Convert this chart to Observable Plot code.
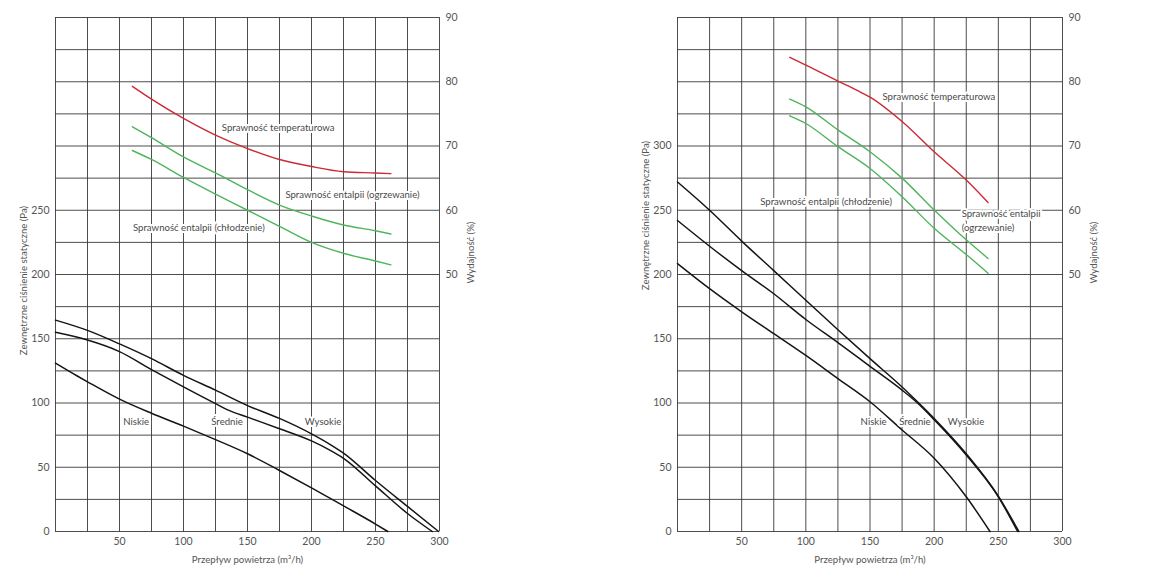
<!DOCTYPE html>
<html><head><meta charset="utf-8">
<script src="https://cdn.jsdelivr.net/npm/d3@7"></script>
<script src="https://cdn.jsdelivr.net/npm/@observablehq/plot@0.6"></script>
<style>
body{margin:0;background:#fff;}
#wrap{position:relative;width:1157px;height:580px;overflow:hidden;background:#fff;}
#wrap svg{position:absolute;top:0;}
</style></head><body><div id="wrap"></div>
<script>
// ---- axis / tick data ----
const gridFlow = [0,25,50,75,100,125,150,175,200,225,250,275,300];
const gridPa = [0,25,50,75,100,125,150,175,200,225,250,275,300,325,350,375,400];
const flowTicks = [50,100,150,200,250,300];
const paTicksLeft = [0,50,100,150,200,250];
const paTicksRight = [0,50,100,150,200,250,300];
const effTicks = [50,60,70,80,90];
const xTitle = "Przepływ powietrza (m³/h)";
const yTitle = "Zewnętrzne ciśnienie statyczne (Pa)";
const effTitle = "Wydajność (%)";
const fanNames = ["Niskie","Średnie","Wysokie"];
const effNames = ["Sprawność temperaturowa","Sprawność entalpii (ogrzewanie)","Sprawność entalpii (chłodzenie)"];

// ---- left chart: pressure (Pa) ----
const lLowFlow  = [0,17,25,50,75,100,125,150,175,200,225,250,259.6];
const lLowPa    = [131,121,116.5,103,92,82,71.5,60.5,47.5,34,20,5.8,0];
const lMidFlow  = [0,25,50,75,100,125,135,150,175,200,215,225,250,275,294.3];
const lMidPa    = [155,149,140,126,112.5,99.5,94.5,89,80,70.5,63,57,35.5,14,0];
const lHighFlow = [0,25,50,75,100,125,150,175,200,215,225,250,275,299.3];
const lHighPa   = [164.5,156.5,146,134.5,121.5,110,98,88,76,67.5,61,39.7,19.5,0];
// ---- left chart: efficiency (%) ----
const lEffFlow = [60,75,100,125,150,175,200,225,250,262];
const lTemp = [79.3,77.3,74.3,71.7,69.6,67.9,66.8,66.0,65.8,65.7];
const lHeat = [73.0,71.3,68.3,65.8,63.2,60.8,59.1,57.7,56.8,56.3];
const lCool = [69.3,67.9,65.1,62.5,60.0,57.5,55.0,53.3,52.1,51.5];

// ---- right chart: pressure (Pa) ----
const rLowFlow  = [0,25,50,75,100,125,150,175,200,225,243.5];
const rLowPa    = [208.5,189,171,154,137,119,101,79,57,27,0];
const rMidFlow  = [0,25,50,75,100,125,150,175,187,200,225,250,265];
const rMidPa    = [242,222,203,185,165,147,128.5,110,100,87,59.5,27,0];
const rHighFlow = [0,25,50,75,100,125,150,175,188,200,225,250,266];
const rHighPa   = [272,250,226,203,180,157,134.5,112.5,100,88,60.5,27.5,0];
// ---- right chart: efficiency (%) ----
const rTempFlow = [87.5,100,125,142.5,150,175,200,225,242];
const rTemp = [83.8,82.6,80.1,78.4,77.6,73.8,69.1,64.7,61.2];
const rEffFlow = [87.5,100,125,150,175,200,225,242];
const rHeat = [77.3,76.1,72.5,69.1,65.0,60.05,55.4,52.5];
const rCool = [74.7,73.5,69.9,66.5,62.1,57.2,53.1,50.2];

// ---- label anchors (flow, Pa) ----
const lLabelText = [effNames[0], effNames[1], effNames[2], fanNames[0], fanNames[1], fanNames[2]];
const lLabelFlow = [174,232,112,63,134,209];
const lLabelPa   = [314,262,236,85,85,85];
const rLabelText = [effNames[0], effNames[2], fanNames[0], fanNames[1], fanNames[2]];
const rLabelFlow = [203.7,115.8,152.8,185,224.8];
const rLabelPa   = [338,256.5,85,85,85];
const rHeatLabel = "Sprawność entalpii\n(ogrzewanie)";
const rHeatLabelFlow = 221.4, rHeatLabelPa = 242.5;

// efficiency % drawn against the Pa scale: 50% ↔ 200 Pa, 10% ↔ 50 Pa
const toPa = p => 200 + (p - 50) * 5;
const toPct = v => (v - 200) / 5 + 50;

const ser = (name, fs, vs) => fs.map((f, i) => ({name, flow: f, value: vs[i]}));
const lbl = (ts, fs, ps) => ts.map((t, i) => ({text: t, flow: fs[i], pa: ps[i]}));

const FONT = "Lato, sans-serif";
const colors = {[effNames[0]]: "#cc2a36", [effNames[1]]: "#4fb45c", [effNames[2]]: "#4fb45c"};
const TXT = "#555";

function panel({width, ml, mr, paTicks, pressure, eff, labels, extra}) {
  return Plot.plot({
    width, height: 580,
    marginLeft: ml, marginRight: mr, marginTop: 17, marginBottom: 49,
    x: {domain: [0, 300]},
    y: {domain: [0, 400]},
    style: {fontFamily: FONT, fontSize: "10.5px", color: TXT, background: "white"},
    marks: [
      Plot.gridX(gridFlow, {stroke: "#3a3a3a", strokeOpacity: 0.9, strokeWidth: 1}),
      Plot.gridY(gridPa, {stroke: "#3a3a3a", strokeOpacity: 0.9, strokeWidth: 1}),
      Plot.axisX(flowTicks, {tickSize: 0, tickPadding: 6, label: null, fontSize: 10.5}),
      Plot.axisY(paTicks, {tickSize: 0, tickPadding: 6, label: null, fontSize: 10.5}),
      Plot.axisY(effTicks.map(toPa), {anchor: "right", tickSize: 0, tickPadding: 6, label: null, fontSize: 10.5, tickFormat: d => String(toPct(d))}),
      Plot.line(pressure, {x: "flow", y: "value", z: "name", stroke: "#151515", strokeWidth: 1.5, curve: "monotone-x"}),
      Plot.line(eff, {x: "flow", y: d => toPa(d.value), z: "name", stroke: d => colors[d.name], strokeWidth: 1.4, curve: "monotone-x"}),
      Plot.text(labels, {x: "flow", y: "pa", text: "text", fill: "#4a4a4a", stroke: "white", strokeWidth: 4, paintOrder: "stroke", fontSize: 9.6}),
      ...(extra || []),
      Plot.text([xTitle], {frameAnchor: "bottom", dy: 31, text: d => d, fill: TXT, fontSize: 9.6}),
      Plot.text([effTitle], {frameAnchor: "right", textAnchor: "middle", dx: 31, dy: -22, rotate: -90, text: d => d, fill: TXT, fontSize: 9.6})
    ]
  });
}

const wrap = document.getElementById("wrap");

const left = panel({
  width: 578, ml: 55, mr: 139, paTicks: paTicksLeft,
  pressure: [...ser(fanNames[0], lLowFlow, lLowPa), ...ser(fanNames[1], lMidFlow, lMidPa), ...ser(fanNames[2], lHighFlow, lHighPa)],
  eff: [...ser(effNames[0], lEffFlow, lTemp), ...ser(effNames[1], lEffFlow, lHeat), ...ser(effNames[2], lEffFlow, lCool)],
  labels: lbl(lLabelText, lLabelFlow, lLabelPa),
  extra: [Plot.text([yTitle], {frameAnchor: "left", textAnchor: "middle", dx: -32, dy: 6, rotate: -90, text: d => d, fill: TXT, fontSize: 9.6})]
});
left.style.left = "0px";
wrap.appendChild(left);

const right = panel({
  width: 579, ml: 99, mr: 95, paTicks: paTicksRight,
  pressure: [...ser(fanNames[0], rLowFlow, rLowPa), ...ser(fanNames[1], rMidFlow, rMidPa), ...ser(fanNames[2], rHighFlow, rHighPa)],
  eff: [...ser(effNames[0], rTempFlow, rTemp), ...ser(effNames[1], rEffFlow, rHeat), ...ser(effNames[2], rEffFlow, rCool)],
  labels: lbl(rLabelText, rLabelFlow, rLabelPa),
  extra: [
    Plot.text([rHeatLabel], {x: () => rHeatLabelFlow, y: () => rHeatLabelPa, text: d => d, textAnchor: "start", lineHeight: 1.4, fill: "#4a4a4a", stroke: "white", strokeWidth: 4, paintOrder: "stroke", fontSize: 9.6}),
    Plot.text([yTitle], {frameAnchor: "left", textAnchor: "middle", dx: -32, dy: -59, rotate: -90, text: d => d, fill: TXT, fontSize: 9.6})
  ]
});
right.style.left = "578px";
wrap.appendChild(right);
</script></body></html>
